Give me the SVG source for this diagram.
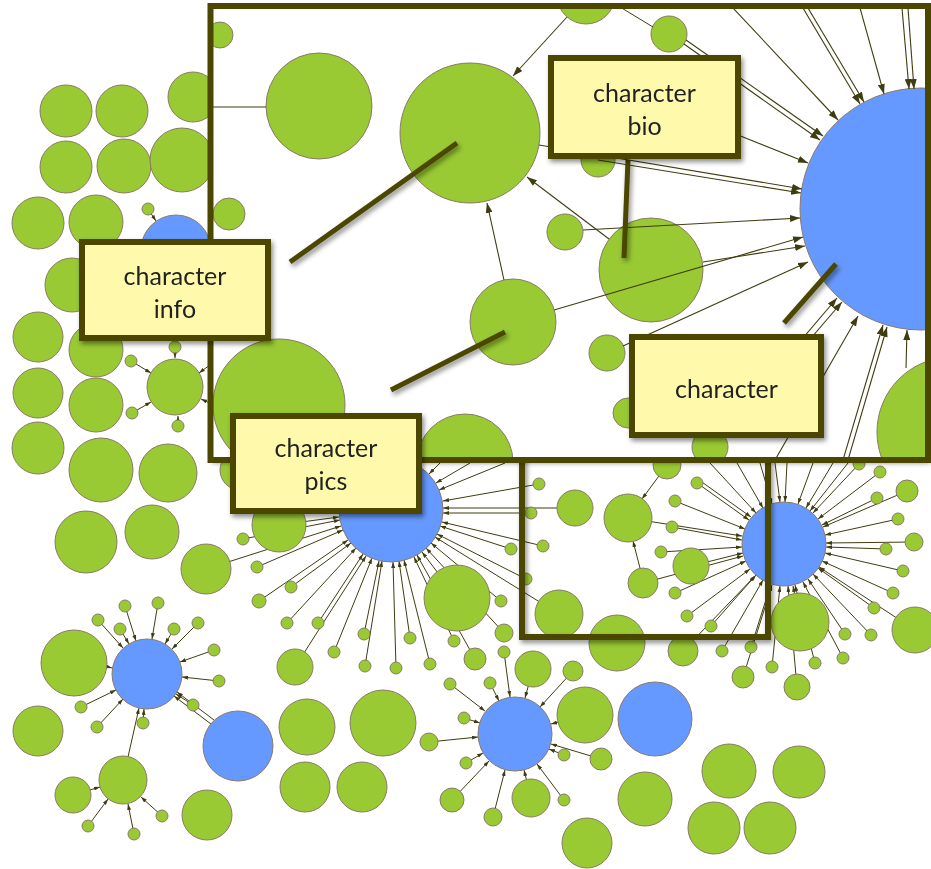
<svg xmlns="http://www.w3.org/2000/svg" width="931" height="869" viewBox="0 0 931 869">
<defs>
<style>
.g{fill:#99c933;stroke:#8a7a66;stroke-width:1}
.b{fill:#6699ff;stroke:#8a7a66;stroke-width:1}
.l{stroke:#3f3d10;stroke-width:1;fill:none;marker-end:url(#a)}
.n{stroke:#3f3d10;stroke-width:1;fill:none}
.L{stroke:#3f3d10;stroke-width:1.1;fill:none;marker-end:url(#A)}
.frame{fill:none;stroke:#4b4700;stroke-width:6}
.call{stroke:#4b4700;stroke-width:5;fill:none}
.lab rect{fill:#fffaab;stroke:#4b4700;stroke-width:6}
.lab text{font-family:Lato,"Open Sans","Liberation Sans",sans-serif;font-size:25px;fill:#222;text-anchor:middle}
</style>
<marker id="a" viewBox="0 0 6 4" markerWidth="6" markerHeight="4" refX="6" refY="2" orient="auto" markerUnits="userSpaceOnUse"><path d="M0,0L6,2L0,4z" fill="#3f3d10"/></marker>
<marker id="A" viewBox="0 0 10 7" markerWidth="10" markerHeight="7" refX="10" refY="3.5" orient="auto" markerUnits="userSpaceOnUse"><path d="M0,0L10,3.5L0,7z" fill="#3f3d10"/></marker>
<filter id="sh" x="-20%" y="-20%" width="140%" height="140%"><feDropShadow dx="2" dy="3" stdDeviation="2.5" flood-color="#000" flood-opacity="0.45"/></filter>
<clipPath id="clip"><rect x="213" y="9" width="712" height="448"/></clipPath>
</defs>
<rect width="931" height="869" fill="#fff"/>

<g id="connectors">
<!-- top-left -->
<line class="l" x1="148" y1="209" x2="156" y2="221"/>
<line class="l" x1="175" y1="347" x2="175" y2="358"/>
<line class="l" x1="131" y1="361" x2="151" y2="373"/>
<line class="l" x1="132" y1="413" x2="151" y2="402"/>
<line class="l" x1="178" y1="426" x2="178" y2="416"/>
<line class="l" x1="214" y1="362" x2="199" y2="373"/>
<line class="l" x1="214" y1="405" x2="201" y2="399"/>
<!-- pics hub -->
<line class="l" x1="539" y1="484" x2="443" y2="501"/>
<line class="l" x1="575" y1="508" x2="443" y2="508"/>
<line class="l" x1="531" y1="513" x2="443" y2="513"/>
<line class="l" x1="543" y1="546" x2="442" y2="522"/>
<line class="l" x1="511" y1="549" x2="440" y2="526"/>
<line class="l" x1="526" y1="579" x2="437" y2="534"/>
<line class="l" x1="559" y1="614" x2="435" y2="537"/>
<line class="l" x1="457" y1="598" x2="422" y2="552"/>
<line class="l" x1="501" y1="601" x2="431" y2="543"/>
<line class="l" x1="504" y1="633" x2="426" y2="548"/>
<line class="l" x1="454" y1="641" x2="414" y2="557"/>
<line class="l" x1="475" y1="659" x2="417" y2="555"/>
<line class="l" x1="430" y1="664" x2="404" y2="560"/>
<line class="l" x1="410" y1="638" x2="399" y2="561"/>
<line class="l" x1="396" y1="668" x2="393" y2="562"/>
<line class="l" x1="365" y1="666" x2="382" y2="561"/>
<line class="l" x1="364" y1="634" x2="379" y2="561"/>
<line class="l" x1="334" y1="652" x2="372" y2="558"/>
<line class="l" x1="318" y1="623" x2="363" y2="554"/>
<line class="l" x1="295" y1="667" x2="366" y2="556"/>
<line class="l" x1="287" y1="623" x2="356" y2="548"/>
<line class="l" x1="259" y1="601" x2="348" y2="540"/>
<line class="l" x1="291" y1="587" x2="351" y2="543"/>
<line class="l" x1="257" y1="567" x2="343" y2="530"/>
<line class="l" x1="206" y1="569" x2="341" y2="526"/>
<line class="l" x1="243" y1="539" x2="340" y2="520"/>
<line class="l" x1="279" y1="525" x2="339" y2="517"/>
<line class="l" x1="440" y1="463" x2="429" y2="474"/>
<line class="l" x1="470" y1="463" x2="436" y2="483"/>
<line class="l" x1="505" y1="463" x2="439" y2="490"/>
<!-- lower-left hub -->
<line class="l" x1="125" y1="606" x2="136" y2="641"/>
<line class="l" x1="158" y1="603" x2="152" y2="639"/>
<line class="l" x1="98" y1="620" x2="123" y2="648"/>
<line class="l" x1="120" y1="629" x2="129" y2="644"/>
<line class="l" x1="174" y1="629" x2="165" y2="644"/>
<line class="l" x1="198" y1="623" x2="172" y2="649"/>
<line class="l" x1="214" y1="650" x2="180" y2="662"/>
<line class="l" x1="219" y1="681" x2="182" y2="677"/>
<line class="l" x1="193" y1="705" x2="176" y2="694"/>
<line class="l" x1="143" y1="723" x2="144" y2="709"/>
<line class="l" x1="97" y1="727" x2="123" y2="699"/>
<line class="l" x1="81" y1="707" x2="116" y2="690"/>
<line class="l" x1="105" y1="666" x2="112" y2="668"/>
<line class="l" x1="211" y1="724" x2="174" y2="696"/>
<line class="l" x1="214" y1="720" x2="177" y2="692"/>
<line class="l" x1="128" y1="757" x2="139" y2="708"/>
<line class="l" x1="73" y1="795" x2="100" y2="787"/>
<line class="l" x1="88" y1="826" x2="108" y2="799"/>
<line class="l" x1="134" y1="834" x2="128" y2="804"/>
<line class="l" x1="162" y1="816" x2="141" y2="797"/>
<!-- lower hub -->
<line class="l" x1="450" y1="684" x2="485" y2="711"/>
<line class="l" x1="490" y1="683" x2="499" y2="701"/>
<line class="l" x1="504" y1="652" x2="510" y2="697"/>
<line class="l" x1="533" y1="669" x2="525" y2="698"/>
<line class="l" x1="573" y1="671" x2="540" y2="707"/>
<line class="l" x1="585" y1="715" x2="551" y2="724"/>
<line class="l" x1="464" y1="718" x2="480" y2="723"/>
<line class="l" x1="429" y1="742" x2="478" y2="737"/>
<line class="l" x1="466" y1="763" x2="483" y2="753"/>
<line class="l" x1="452" y1="800" x2="489" y2="761"/>
<line class="l" x1="493" y1="817" x2="505" y2="770"/>
<line class="l" x1="531" y1="798" x2="524" y2="770"/>
<line class="l" x1="564" y1="800" x2="537" y2="764"/>
<line class="l" x1="564" y1="755" x2="549" y2="749"/>
<line class="l" x1="601" y1="759" x2="551" y2="744"/>
<!-- right hub -->
<line class="l" x1="697" y1="483" x2="749" y2="520"/>
<line class="l" x1="699" y1="480" x2="751" y2="517"/>
<line class="l" x1="675" y1="501" x2="745" y2="529"/>
<line class="l" x1="628" y1="518" x2="742" y2="536"/>
<line class="l" x1="672" y1="527" x2="742" y2="540"/>
<line class="l" x1="661" y1="552" x2="742" y2="547"/>
<line class="l" x1="691" y1="566" x2="743" y2="553"/>
<line class="l" x1="643" y1="583" x2="743" y2="556"/>
<line class="l" x1="675" y1="593" x2="746" y2="561"/>
<line class="l" x1="687" y1="616" x2="750" y2="569"/>
<line class="l" x1="711" y1="626" x2="756" y2="575"/>
<line class="l" x1="722" y1="651" x2="763" y2="580"/>
<line class="l" x1="751" y1="647" x2="771" y2="584"/>
<line class="l" x1="683" y1="651" x2="755" y2="576"/>
<line class="l" x1="743" y1="677" x2="772" y2="585"/>
<line class="l" x1="772" y1="667" x2="780" y2="586"/>
<line class="l" x1="797" y1="687" x2="788" y2="586"/>
<line class="l" x1="800" y1="622" x2="793" y2="586"/>
<line class="l" x1="815" y1="663" x2="795" y2="585"/>
<line class="l" x1="843" y1="658" x2="803" y2="582"/>
<line class="l" x1="845" y1="634" x2="808" y2="579"/>
<line class="l" x1="871" y1="635" x2="813" y2="574"/>
<line class="l" x1="874" y1="608" x2="818" y2="568"/>
<line class="l" x1="893" y1="593" x2="822" y2="561"/>
<line class="l" x1="915" y1="630" x2="819" y2="567"/>
<line class="l" x1="903" y1="571" x2="825" y2="553"/>
<line class="l" x1="886" y1="549" x2="826" y2="547"/>
<line class="l" x1="914" y1="542" x2="826" y2="543"/>
<line class="l" x1="898" y1="519" x2="825" y2="535"/>
<line class="l" x1="907" y1="491" x2="823" y2="527"/>
<line class="l" x1="877" y1="498" x2="822" y2="525"/>
<line class="l" x1="880" y1="472" x2="818" y2="519"/>
<line class="l" x1="859" y1="464" x2="813" y2="513"/>
<line class="l" x1="710" y1="463" x2="756" y2="513"/>
<line class="l" x1="737" y1="463" x2="763" y2="508"/>
<line class="l" x1="760" y1="463" x2="772" y2="504"/>
<line class="l" x1="775" y1="463" x2="780" y2="502"/>
<line class="l" x1="787" y1="463" x2="785" y2="502"/>
<line class="l" x1="813" y1="463" x2="798" y2="504"/>
<line class="l" x1="833" y1="463" x2="806" y2="508"/>
<line class="l" x1="848" y1="463" x2="810" y2="511"/>
<line class="l" x1="667" y1="465" x2="642" y2="499"/>
<line class="l" x1="640" y1="568" x2="633" y2="541"/>
</g>

<g id="nodes">
<g id="n1"><circle class="g" cx="66" cy="111" r="26"/></g>
<g id="n2"><circle class="g" cx="122" cy="111" r="26"/></g>
<g id="n3"><circle class="g" cx="66" cy="167" r="26"/></g>
<g id="n4"><circle class="g" cx="124" cy="166" r="27"/></g>
<g id="n5"><circle class="g" cx="193" cy="97" r="25"/></g>
<g id="n6"><circle class="g" cx="182" cy="160" r="32"/></g>
<g id="n7"><circle class="g" cx="38" cy="223" r="26"/></g>
<g id="n8"><circle class="g" cx="96" cy="222" r="27"/></g>
<g id="n9"><circle class="g" cx="148" cy="209" r="6"/></g>
<g id="n10"><circle class="b" cx="176" cy="250" r="35"/></g>
<g id="n11"><circle class="g" cx="72" cy="285" r="27"/></g>
<g id="n12"><circle class="g" cx="38" cy="337" r="25"/></g>
<g id="n13"><circle class="g" cx="96" cy="350" r="27"/></g>
<g id="n14"><circle class="g" cx="38" cy="393" r="25"/></g>
<g id="n15"><circle class="g" cx="96" cy="405" r="27"/></g>
<g id="n16"><circle class="g" cx="38" cy="448" r="26"/></g>
<g id="n17"><circle class="g" cx="101" cy="470" r="32"/></g>
<g id="n18"><circle class="g" cx="168" cy="473" r="29"/></g>
<g id="n19"><circle class="g" cx="86" cy="542" r="31"/></g>
<g id="n20"><circle class="g" cx="152" cy="532" r="27"/></g>
<g id="n21"><circle class="g" cx="206" cy="569" r="25"/></g>
<g id="n22"><circle class="g" cx="175" cy="387" r="28"/></g>
<g id="n23"><circle class="g" cx="175" cy="347" r="6"/></g>
<g id="n24"><circle class="g" cx="131" cy="361" r="6"/></g>
<g id="n25"><circle class="g" cx="132" cy="413" r="6"/></g>
<g id="n26"><circle class="g" cx="178" cy="426" r="6"/></g>
<g id="n27"><circle class="g" cx="240" cy="470" r="20"/></g>

<g id="p0"><circle class="b" cx="391" cy="510" r="52"/></g>
<g id="p1"><circle class="g" cx="539" cy="484" r="6"/></g>
<g id="p2"><circle class="g" cx="575" cy="508" r="18"/></g>
<g id="p3"><circle class="g" cx="531" cy="513" r="6"/></g>
<g id="p4"><circle class="g" cx="543" cy="546" r="6"/></g>
<g id="p5"><circle class="g" cx="511" cy="549" r="6"/></g>
<g id="p6"><circle class="g" cx="526" cy="579" r="6"/></g>
<g id="p7"><circle class="g" cx="559" cy="614" r="24"/></g>
<g id="p8"><circle class="g" cx="457" cy="598" r="33"/></g>
<g id="p9"><circle class="g" cx="501" cy="601" r="6"/></g>
<g id="p10"><circle class="g" cx="504" cy="633" r="9"/></g>
<g id="p11"><circle class="g" cx="454" cy="641" r="6"/></g>
<g id="p12"><circle class="g" cx="475" cy="659" r="11"/></g>
<g id="p13"><circle class="g" cx="430" cy="664" r="6"/></g>
<g id="p14"><circle class="g" cx="410" cy="638" r="6"/></g>
<g id="p15"><circle class="g" cx="396" cy="668" r="6"/></g>
<g id="p16"><circle class="g" cx="365" cy="666" r="6"/></g>
<g id="p17"><circle class="g" cx="364" cy="634" r="6"/></g>
<g id="p18"><circle class="g" cx="334" cy="652" r="6"/></g>
<g id="p19"><circle class="g" cx="318" cy="623" r="6"/></g>
<g id="p20"><circle class="g" cx="295" cy="667" r="18"/></g>
<g id="p21"><circle class="g" cx="287" cy="623" r="6"/></g>
<g id="p22"><circle class="g" cx="259" cy="601" r="7"/></g>
<g id="p23"><circle class="g" cx="291" cy="587" r="6"/></g>
<g id="p24"><circle class="g" cx="257" cy="567" r="6"/></g>
<g id="p25"><circle class="g" cx="243" cy="539" r="6"/></g>
<g id="p26"><circle class="g" cx="279" cy="525" r="27"/></g>

<g id="q0"><circle class="b" cx="147" cy="674" r="35"/></g>
<g id="q1"><circle class="g" cx="125" cy="606" r="6"/></g>
<g id="q2"><circle class="g" cx="158" cy="603" r="6"/></g>
<g id="q3"><circle class="g" cx="98" cy="620" r="6"/></g>
<g id="q4"><circle class="g" cx="120" cy="629" r="6"/></g>
<g id="q5"><circle class="g" cx="174" cy="629" r="6"/></g>
<g id="q6"><circle class="g" cx="198" cy="623" r="6"/></g>
<g id="q7"><circle class="g" cx="214" cy="650" r="6"/></g>
<g id="q8"><circle class="g" cx="219" cy="681" r="6"/></g>
<g id="q9"><circle class="g" cx="193" cy="705" r="6"/></g>
<g id="q10"><circle class="g" cx="143" cy="723" r="6"/></g>
<g id="q11"><circle class="g" cx="97" cy="727" r="6"/></g>
<g id="q12"><circle class="g" cx="81" cy="707" r="6"/></g>
<g id="q13"><circle class="g" cx="74" cy="663" r="33"/></g>
<g id="q14"><circle class="g" cx="38" cy="731" r="25"/></g>
<g id="q15"><circle class="b" cx="238" cy="746" r="35"/></g>
<g id="q16"><circle class="g" cx="123" cy="780" r="24"/></g>
<g id="q17"><circle class="g" cx="73" cy="795" r="18"/></g>
<g id="q18"><circle class="g" cx="88" cy="826" r="6"/></g>
<g id="q19"><circle class="g" cx="134" cy="834" r="6"/></g>
<g id="q20"><circle class="g" cx="162" cy="816" r="6"/></g>
<g id="q21"><circle class="g" cx="207" cy="815" r="25"/></g>
<g id="q22"><circle class="g" cx="307" cy="727" r="28"/></g>
<g id="q23"><circle class="g" cx="383" cy="723" r="33"/></g>
<g id="q24"><circle class="g" cx="305" cy="787" r="25"/></g>
<g id="q25"><circle class="g" cx="362" cy="787" r="25"/></g>

<g id="h0"><circle class="b" cx="515" cy="734" r="37"/></g>
<g id="h1"><circle class="g" cx="450" cy="684" r="6"/></g>
<g id="h2"><circle class="g" cx="490" cy="683" r="6"/></g>
<g id="h3"><circle class="g" cx="504" cy="652" r="6"/></g>
<g id="h4"><circle class="g" cx="533" cy="669" r="18"/></g>
<g id="h5"><circle class="g" cx="573" cy="671" r="10"/></g>
<g id="h6"><circle class="g" cx="585" cy="715" r="28"/></g>
<g id="h7"><circle class="g" cx="464" cy="718" r="6"/></g>
<g id="h8"><circle class="g" cx="429" cy="742" r="9"/></g>
<g id="h9"><circle class="g" cx="466" cy="763" r="6"/></g>
<g id="h10"><circle class="g" cx="452" cy="800" r="12"/></g>
<g id="h11"><circle class="g" cx="493" cy="817" r="9"/></g>
<g id="h12"><circle class="g" cx="531" cy="798" r="19"/></g>
<g id="h13"><circle class="g" cx="564" cy="800" r="6"/></g>
<g id="h14"><circle class="g" cx="564" cy="755" r="6"/></g>
<g id="h15"><circle class="g" cx="601" cy="759" r="11"/></g>
<g id="h16"><circle class="b" cx="655" cy="719" r="37"/></g>
<g id="h17"><circle class="g" cx="645" cy="799" r="27"/></g>
<g id="h18"><circle class="g" cx="587" cy="843" r="25"/></g>
<g id="h19"><circle class="g" cx="729" cy="771" r="27"/></g>
<g id="h20"><circle class="g" cx="799" cy="772" r="26"/></g>
<g id="h21"><circle class="g" cx="714" cy="828" r="26"/></g>
<g id="h22"><circle class="g" cx="770" cy="828" r="26"/></g>

<g id="r0"><circle class="b" cx="784" cy="544" r="42"/></g>
<g id="r1"><circle class="g" cx="667" cy="465" r="14"/></g>
<g id="r2"><circle class="g" cx="697" cy="483" r="6"/></g>
<g id="r3"><circle class="g" cx="675" cy="501" r="6"/></g>
<g id="r4"><circle class="g" cx="628" cy="518" r="24"/></g>
<g id="r5"><circle class="g" cx="672" cy="527" r="6"/></g>
<g id="r6"><circle class="g" cx="661" cy="552" r="6"/></g>
<g id="r7"><circle class="g" cx="691" cy="566" r="18"/></g>
<g id="r8"><circle class="g" cx="643" cy="583" r="15"/></g>
<g id="r9"><circle class="g" cx="675" cy="593" r="6"/></g>
<g id="r10"><circle class="g" cx="687" cy="616" r="6"/></g>
<g id="r11"><circle class="g" cx="711" cy="626" r="6"/></g>
<g id="r12"><circle class="g" cx="617" cy="643" r="28"/></g>
<g id="r13"><circle class="g" cx="683" cy="651" r="15"/></g>
<g id="r14"><circle class="g" cx="722" cy="651" r="6"/></g>
<g id="r15"><circle class="g" cx="751" cy="647" r="6"/></g>
<g id="r16"><circle class="g" cx="743" cy="677" r="11"/></g>
<g id="r17"><circle class="g" cx="772" cy="667" r="6"/></g>
<g id="r18"><circle class="g" cx="797" cy="687" r="13"/></g>
<g id="r19"><circle class="g" cx="800" cy="622" r="29"/></g>
<g id="r20"><circle class="g" cx="815" cy="663" r="6"/></g>
<g id="r21"><circle class="g" cx="843" cy="658" r="6"/></g>
<g id="r22"><circle class="g" cx="845" cy="634" r="6"/></g>
<g id="r23"><circle class="g" cx="871" cy="635" r="6"/></g>
<g id="r24"><circle class="g" cx="874" cy="608" r="6"/></g>
<g id="r25"><circle class="g" cx="893" cy="593" r="6"/></g>
<g id="r26"><circle class="g" cx="915" cy="630" r="23"/></g>
<g id="r27"><circle class="g" cx="903" cy="571" r="6"/></g>
<g id="r28"><circle class="g" cx="886" cy="549" r="6"/></g>
<g id="r29"><circle class="g" cx="914" cy="542" r="9"/></g>
<g id="r30"><circle class="g" cx="898" cy="519" r="6"/></g>
<g id="r31"><circle class="g" cx="907" cy="491" r="11"/></g>
<g id="r32"><circle class="g" cx="877" cy="498" r="6"/></g>
<g id="r33"><circle class="g" cx="880" cy="472" r="6"/></g>
<g id="r34"><circle class="g" cx="859" cy="464" r="6"/></g>
</g>

<g id="zoom-frame" filter="url(#sh)"><rect class="frame" x="522" y="440" width="246" height="197"/></g>

<g id="inset">
<rect x="210.5" y="6" width="717.5" height="454" fill="#fff" filter="url(#sh)"/>
<g clip-path="url(#clip)">
<g id="i1"><circle class="g" cx="220" cy="35" r="13"/></g>
<g id="i2"><circle class="g" cx="229" cy="214" r="16"/></g>
<g id="i3"><circle class="g" cx="319" cy="106" r="53"/></g>
<g id="i4"><circle class="g" cx="470" cy="133" r="70"/></g>
<g id="i5"><circle class="g" cx="586" cy="-5" r="29"/></g>
<g id="i6"><circle class="g" cx="669" cy="34" r="18"/></g>
<g id="i7"><circle class="g" cx="565" cy="232" r="18"/></g>
<g id="i8"><circle class="g" cx="598" cy="160" r="17"/></g>
<g id="i9"><circle class="g" cx="651" cy="270" r="52"/></g>
<g id="i10"><circle class="g" cx="513" cy="322" r="43"/></g>
<g id="i11"><circle class="g" cx="607" cy="353" r="18"/></g>
<g id="i12"><circle class="g" cx="628" cy="413" r="15"/></g>
<g id="i13"><circle class="g" cx="710" cy="447" r="18"/></g>
<g id="i14"><circle class="g" cx="279" cy="405" r="66"/></g>
<g id="i15"><circle class="g" cx="465" cy="462" r="48"/></g>
<g id="i16"><circle class="g" cx="952" cy="432" r="75"/></g>
<g id="i0"><circle class="b" cx="921" cy="209" r="121"/></g>
<g id="inset-connectors">
<line class="n" x1="213" y1="107" x2="266" y2="107"/>
<line class="L" x1="567" y1="17" x2="513" y2="76"/>
<line class="L" x1="609" y1="239" x2="527" y2="177"/>
<line class="L" x1="504" y1="280" x2="487" y2="203"/>
<line class="n" x1="620" y1="7" x2="653" y2="27"/>
<line class="L" x1="733" y1="8" x2="838" y2="120"/>
<line class="L" x1="803" y1="8" x2="860" y2="104"/>
<line class="L" x1="808" y1="8" x2="864" y2="102"/>
<line class="L" x1="860" y1="8" x2="884" y2="94"/>
<line class="L" x1="902" y1="8" x2="909" y2="89"/>
<line class="L" x1="908" y1="8" x2="914" y2="89"/>
<line class="L" x1="684" y1="44" x2="820" y2="140"/>
<line class="L" x1="686" y1="40" x2="823" y2="136"/>
<line class="L" x1="738" y1="135" x2="808" y2="163"/>
<line class="L" x1="539" y1="145" x2="802" y2="189"/>
<line class="L" x1="598" y1="160" x2="801" y2="193"/>
<line class="L" x1="583" y1="230" x2="800" y2="218"/>
<line class="L" x1="554" y1="310" x2="803" y2="237"/>
<line class="L" x1="703" y1="262" x2="805" y2="246"/>
<line class="L" x1="623" y1="346" x2="808" y2="262"/>
<line class="L" x1="722" y1="433" x2="837" y2="298"/>
<line class="L" x1="727" y1="436" x2="842" y2="302"/>
<line class="L" x1="775" y1="460" x2="858" y2="316"/>
<line class="L" x1="843" y1="460" x2="883" y2="325"/>
<line class="L" x1="848" y1="460" x2="887" y2="327"/>
<line class="L" x1="906" y1="368" x2="907" y2="330"/>
</g>
</g>
<rect class="frame" x="210.5" y="6" width="717.5" height="454"/>
</g>

<g id="callouts" filter="url(#sh)">
<line class="call" x1="290" y1="262" x2="457" y2="143"/>
<line class="call" x1="391" y1="390" x2="505" y2="332"/>
<line class="call" x1="628" y1="160" x2="624" y2="258"/>
<line class="call" x1="784" y1="323" x2="836" y2="264"/>
</g>

<g id="label-info" class="lab" filter="url(#sh)"><rect x="82" y="242" width="186" height="96"/><text x="175" y="285">character</text><text x="175" y="318">info</text></g>
<g id="label-bio" class="lab" filter="url(#sh)"><rect x="551" y="58" width="187" height="98"/><text x="644.5" y="102">character</text><text x="644.5" y="135">bio</text></g>
<g id="label-character" class="lab" filter="url(#sh)"><rect x="632" y="337" width="189" height="98"/><text x="726.5" y="398">character</text></g>
<g id="label-pics" class="lab" filter="url(#sh)"><rect x="233" y="416" width="186" height="95"/><text x="326" y="457">character</text><text x="326" y="490">pics</text></g>
</svg>
